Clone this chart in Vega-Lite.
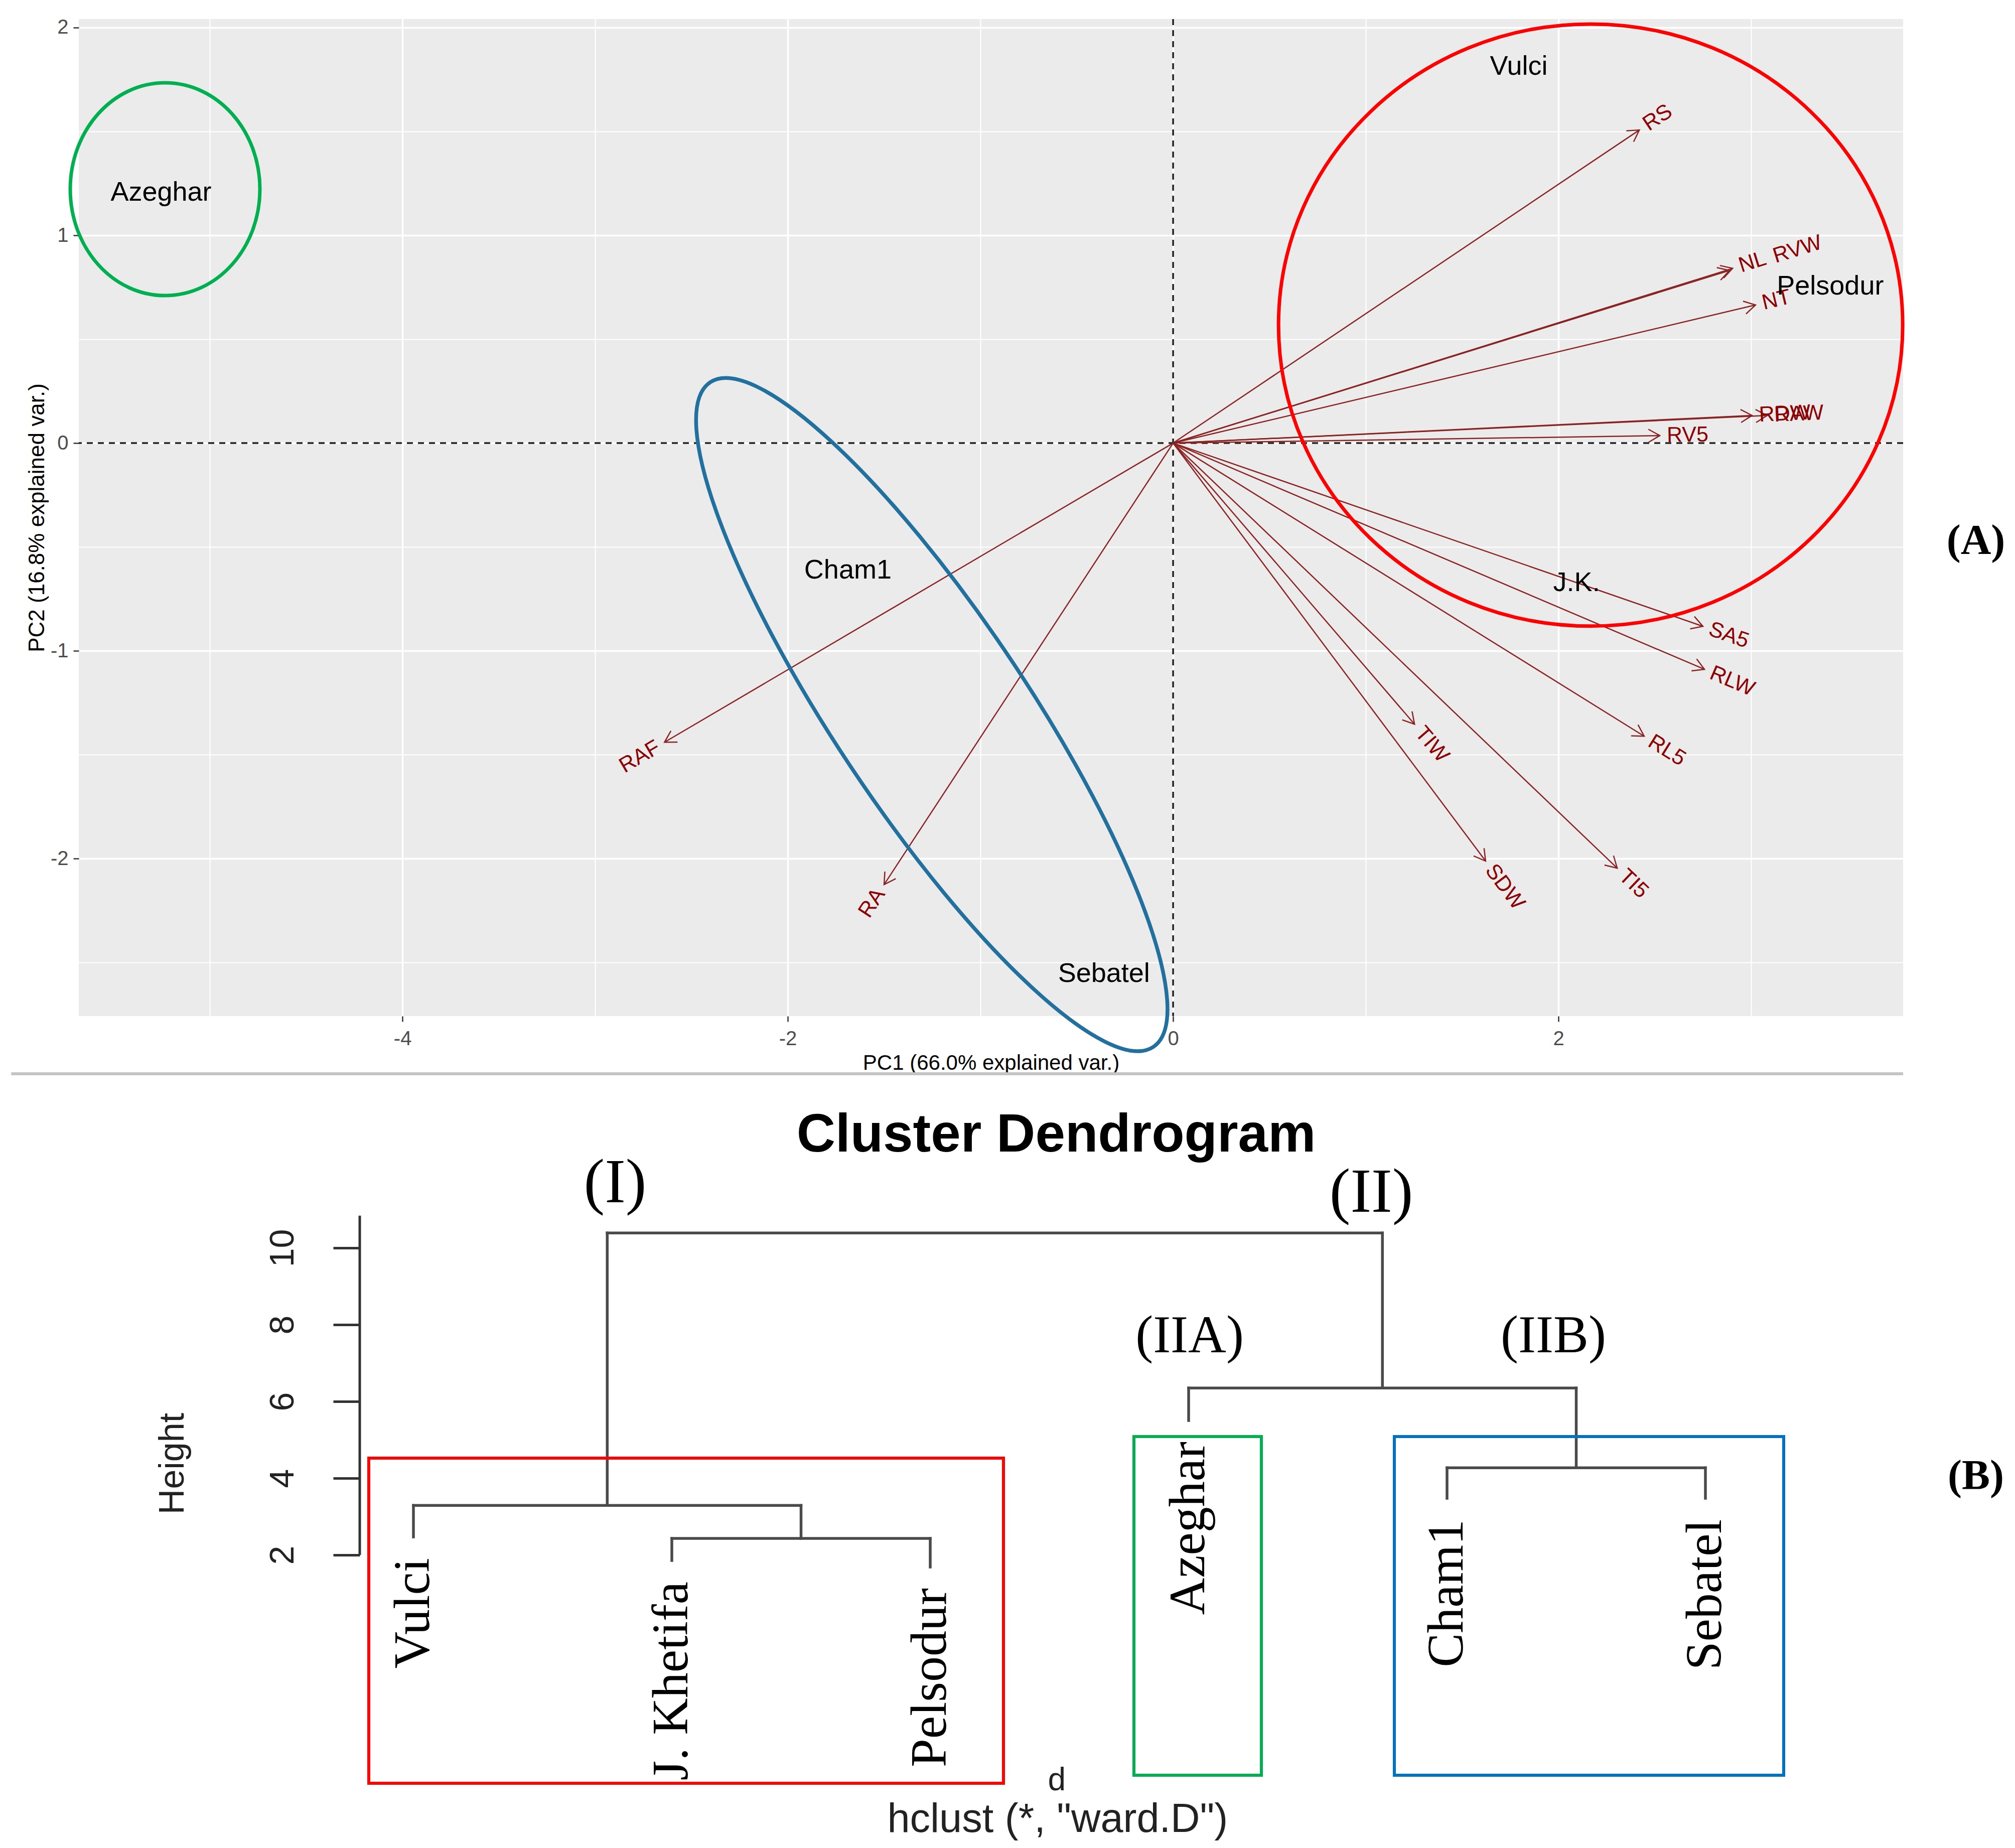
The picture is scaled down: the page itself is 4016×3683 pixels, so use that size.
{
  "$schema": "https://vega.github.io/schema/vega-lite/v6.json",
  "background": "white",
  "padding": {"left": 19, "top": 33, "right": 0, "bottom": 0},
  "config": {"view": {"stroke": null}, "font": "Liberation Sans"},
  "bounds": "flush",
  "center": true,
  "spacing": 120,
  "datasets": {
    "vars": [
      {"var": "RS", "x0": 0, "y0": 0, "x": 2.42, "y": 1.507},
      {"var": "NL", "x0": 0, "y0": 0, "x": 2.904, "y": 0.841},
      {"var": "RVW", "x0": 0, "y0": 0, "x": 2.888, "y": 0.831},
      {"var": "NT", "x0": 0, "y0": 0, "x": 3.023, "y": 0.665},
      {"var": "RDW", "x0": 0, "y0": 0, "x": 3.005, "y": 0.133},
      {"var": "RAW", "x0": 0, "y0": 0, "x": 3.083, "y": 0.133},
      {"var": "RV5", "x0": 0, "y0": 0, "x": 2.526, "y": 0.036},
      {"var": "SA5", "x0": 0, "y0": 0, "x": 2.75, "y": -0.882},
      {"var": "RLW", "x0": 0, "y0": 0, "x": 2.758, "y": -1.089},
      {"var": "RL5", "x0": 0, "y0": 0, "x": 2.445, "y": -1.411},
      {"var": "TIW", "x0": 0, "y0": 0, "x": 1.253, "y": -1.353},
      {"var": "SDW", "x0": 0, "y0": 0, "x": 1.622, "y": -2.012},
      {"var": "TI5", "x0": 0, "y0": 0, "x": 2.305, "y": -2.046},
      {"var": "RAF", "x0": 0, "y0": 0, "x": -2.64, "y": -1.44},
      {"var": "RA", "x0": 0, "y0": 0, "x": -1.5, "y": -2.125}
    ],
    "samples": [
      {"name": "Azeghar", "x": -5.253, "y": 1.205},
      {"name": "Vulci", "x": 1.794, "y": 1.812},
      {"name": "Pelsodur", "x": 3.411, "y": 0.754},
      {"name": "J.K.", "x": 2.094, "y": -0.674},
      {"name": "Cham1", "x": -1.688, "y": -0.613},
      {"name": "Sebatel", "x": -0.359, "y": -2.556}
    ],
    "groups": [
      {"grp": "IIA", "x": -5.232, "y": 1.222},
      {"grp": "I", "x": 2.167, "y": 0.568},
      {"grp": "IIB", "x": -1.2526, "y": -1.3068}
    ],
    "dendro": [
      {"x": 1, "x2": 1, "y": 2.47, "y2": 3.29},
      {"x": 2, "x2": 2, "y": 1.856, "y2": 2.43},
      {"x": 3, "x2": 3, "y": 1.686, "y2": 2.43},
      {"x": 2, "x2": 3, "y": 2.43, "y2": 2.43},
      {"x": 2.5, "x2": 2.5, "y": 2.43, "y2": 3.29},
      {"x": 1, "x2": 2.5, "y": 3.29, "y2": 3.29},
      {"x": 1.75, "x2": 1.75, "y": 3.29, "y2": 10.39},
      {"x": 4, "x2": 4, "y": 5.503, "y2": 6.35},
      {"x": 5, "x2": 5, "y": 3.477, "y2": 4.27},
      {"x": 6, "x2": 6, "y": 3.477, "y2": 4.27},
      {"x": 5, "x2": 6, "y": 4.27, "y2": 4.27},
      {"x": 5.5, "x2": 5.5, "y": 4.27, "y2": 6.35},
      {"x": 4, "x2": 5.5, "y": 6.35, "y2": 6.35},
      {"x": 4.75, "x2": 4.75, "y": 6.35, "y2": 10.39},
      {"x": 1.75, "x2": 4.75, "y": 10.39, "y2": 10.39}
    ],
    "leaves": [
      {"name": "Vulci", "pos": 1, "h": 2.47},
      {"name": "J. Khetifa", "pos": 2, "h": 1.856},
      {"name": "Pelsodur", "pos": 3, "h": 1.686},
      {"name": "Azeghar", "pos": 4, "h": 5.503},
      {"name": "Cham1", "pos": 5, "h": 3.477},
      {"name": "Sebatel", "pos": 6, "h": 3.477}
    ],
    "clusters": [
      {"label": "(I)", "pos": 1.7806, "h": 11.68, "lvl": "main"},
      {"label": "(II)", "pos": 4.7068, "h": 11.444, "lvl": "main"},
      {"label": "(IIA)", "pos": 4.0039, "h": 7.695, "lvl": "sub"},
      {"label": "(IIB)", "pos": 5.4117, "h": 7.695, "lvl": "sub"}
    ],
    "boxes": [
      {"grp": "red", "x1": 0.8272, "x2": 3.2835, "y1": 4.523, "y2": -3.948},
      {"grp": "green", "x1": 3.7883, "x2": 4.2816, "y1": 5.085, "y2": -3.739},
      {"grp": "blue", "x1": 4.7961, "x2": 6.3029, "y1": 5.085, "y2": -3.739}
    ]
  },
  "vconcat": [
    {
      "width": 3636,
      "height": 1987,
      "view": {"fill": "#EBEBEB", "stroke": null},
      "layer": [
        {
          "data": {"values": [{}]},
          "mark": {"type": "rule", "color": "#222222", "strokeWidth": 3.5, "strokeDash": [12, 10]},
          "encoding": {"x": {"datum": 0, "type": "quantitative", "scale": {"domain": [-5.68, 3.789], "nice": false, "zero": false}}}
        },
        {
          "data": {"values": [{}]},
          "mark": {"type": "rule", "color": "#222222", "strokeWidth": 3.5, "strokeDash": [12, 10]},
          "encoding": {"y": {"datum": 0, "type": "quantitative", "scale": {"domain": [-2.758, 2.041], "nice": false, "zero": false}}}
        },
        {
          "data": {"name": "vars"},
          "mark": {"type": "rule", "color": "#8B2323", "strokeWidth": 2.5},
          "encoding": {
            "x": {"field": "x0", "type": "quantitative", "scale": {"domain": [-5.68, 3.789], "nice": false, "zero": false}},
            "y": {"field": "y0", "type": "quantitative", "scale": {"domain": [-2.758, 2.041], "nice": false, "zero": false}},
            "x2": {"field": "x"},
            "y2": {"field": "y"}
          }
        },
        {
          "data": {"name": "vars"},
          "transform": [{"calculate": "atan2(-datum.y * 1.078, datum.x) * 180 / PI", "as": "ha"}],
          "mark": {"type": "point", "shape": "M-0.866,-0.5L0,0L-0.866,0.5", "size": 2704, "filled": false, "color": "#8B2323", "strokeWidth": 2.5, "opacity": 1},
          "encoding": {
            "x": {"field": "x", "type": "quantitative", "scale": {"domain": [-5.68, 3.789], "nice": false, "zero": false},
              "axis": {
                "title": "PC1 (66.0% explained var.)",
                "values": [-5, -4, -3, -2, -1, 0, 1, 2, 3],
                "grid": true, "gridColor": "#FFFFFF", "gridOpacity": 1,
                "gridWidth": {"condition": {"test": "datum.value % 2 == 0", "value": 3.5}, "value": 2.2},
                "tickOpacity": {"condition": {"test": "datum.value % 2 == 0", "value": 1}, "value": 0},
                "labelExpr": "datum.value % 2 == 0 ? (datum.value < 0 ? '-' + abs(datum.value) : '' + datum.value) : ''",
                "domain": false, "tickColor": "#333333", "tickWidth": 2.5, "tickSize": 11,
                "labelFont": "Liberation Sans", "labelFontSize": 40, "labelColor": "#4D4D4D", "labelPadding": 14,
                "labelOverlap": false, "labelFlush": false,
                "titleFont": "Liberation Sans", "titleFontSize": 42, "titleFontWeight": "normal", "titleColor": "#000000", "titlePadding": 8
              }
            },
            "y": {"field": "y", "type": "quantitative", "scale": {"domain": [-2.758, 2.041], "nice": false, "zero": false},
              "axis": {
                "title": "PC2 (16.8% explained var.)",
                "values": [-2.5, -2, -1.5, -1, -0.5, 0, 0.5, 1, 1.5, 2],
                "grid": true, "gridColor": "#FFFFFF", "gridOpacity": 1,
                "gridWidth": {"condition": {"test": "datum.value % 1 == 0", "value": 3.5}, "value": 2.2},
                "tickOpacity": {"condition": {"test": "datum.value % 1 == 0", "value": 1}, "value": 0},
                "labelExpr": "datum.value % 1 == 0 ? (datum.value < 0 ? '-' + abs(datum.value) : '' + datum.value) : ''",
                "domain": false, "tickColor": "#333333", "tickWidth": 2.5, "tickSize": 11,
                "labelFont": "Liberation Sans", "labelFontSize": 40, "labelColor": "#4D4D4D", "labelPadding": 10,
                "labelOverlap": false, "labelFlush": false,
                "titleFont": "Liberation Sans", "titleFontSize": 44, "titleFontWeight": "normal", "titleColor": "#000000", "titlePadding": 4
              }
            },
            "angle": {"field": "ha", "type": "quantitative", "scale": null}
          }
        },
        {
          "data": {"name": "vars"},
          "transform": [{"filter": "datum.x > 0 && datum.var != 'RVW'"}, {"calculate": "-atan(datum.y * 1.078 / datum.x) * 180 / PI", "as": "la"}],
          "mark": {"type": "text", "align": "left", "baseline": "middle", "dx": 14, "fontSize": 43, "color": "#8B0000", "font": "Liberation Sans"},
          "encoding": {
            "x": {"field": "x", "type": "quantitative", "scale": {"domain": [-5.68, 3.789], "nice": false, "zero": false}},
            "y": {"field": "y", "type": "quantitative", "scale": {"domain": [-2.758, 2.041], "nice": false, "zero": false}},
            "text": {"field": "var"},
            "angle": {"field": "la", "type": "quantitative", "scale": null}
          }
        },
        {
          "data": {"name": "vars"},
          "transform": [{"filter": "datum.var == 'RVW'"}, {"calculate": "-atan(datum.y * 1.078 / datum.x) * 180 / PI", "as": "la"}],
          "mark": {"type": "text", "align": "left", "baseline": "middle", "dx": 92, "fontSize": 43, "color": "#8B0000", "font": "Liberation Sans"},
          "encoding": {
            "x": {"field": "x", "type": "quantitative", "scale": {"domain": [-5.68, 3.789], "nice": false, "zero": false}},
            "y": {"field": "y", "type": "quantitative", "scale": {"domain": [-2.758, 2.041], "nice": false, "zero": false}},
            "text": {"field": "var"},
            "angle": {"field": "la", "type": "quantitative", "scale": null}
          }
        },
        {
          "data": {"name": "vars"},
          "transform": [{"filter": "datum.x < 0"}, {"calculate": "-atan(datum.y * 1.078 / datum.x) * 180 / PI", "as": "la"}],
          "mark": {"type": "text", "align": "right", "baseline": "middle", "dx": -14, "fontSize": 43, "color": "#8B0000", "font": "Liberation Sans"},
          "encoding": {
            "x": {"field": "x", "type": "quantitative", "scale": {"domain": [-5.68, 3.789], "nice": false, "zero": false}},
            "y": {"field": "y", "type": "quantitative", "scale": {"domain": [-2.758, 2.041], "nice": false, "zero": false}},
            "text": {"field": "var"},
            "angle": {"field": "la", "type": "quantitative", "scale": null}
          }
        },
        {
          "data": {"name": "groups"},
          "transform": [{"filter": "datum.grp == 'IIA'"}],
          "mark": {"type": "point", "shape": "M0.8915,0C0.8915,0.5523,0.4924,1,0,1C-0.4924,1,-0.8915,0.5523,-0.8915,0C-0.8915,-0.5523,-0.4924,-1,0,-1C0.4924,-1,0.8915,-0.5523,0.8915,0Z", "size": 179776, "filled": false, "color": "#00B050", "strokeWidth": 7, "opacity": 1},
          "encoding": {
            "x": {"field": "x", "type": "quantitative", "scale": {"domain": [-5.68, 3.789], "nice": false, "zero": false}},
            "y": {"field": "y", "type": "quantitative", "scale": {"domain": [-2.758, 2.041], "nice": false, "zero": false}}
          }
        },
        {
          "data": {"name": "groups"},
          "transform": [{"filter": "datum.grp == 'I'"}],
          "mark": {"type": "point", "shape": "M1,0C1,0.5327,0.5523,0.9646,0,0.9646C-0.5523,0.9646,-1,0.5327,-1,0C-1,-0.5327,-0.5523,-0.9646,0,-0.9646C0.5523,-0.9646,1,-0.5327,1,0Z", "size": 1547536, "filled": false, "color": "#FF0000", "strokeWidth": 7, "opacity": 1},
          "encoding": {
            "x": {"field": "x", "type": "quantitative", "scale": {"domain": [-5.68, 3.789], "nice": false, "zero": false}},
            "y": {"field": "y", "type": "quantitative", "scale": {"domain": [-2.758, 2.041], "nice": false, "zero": false}}
          }
        },
        {
          "data": {"name": "groups"},
          "transform": [{"filter": "datum.grp == 'IIB'"}],
          "mark": {"type": "point", "shape": "M1,0C1,0.1332,0.5523,0.2412,0,0.2412C-0.5523,0.2412,-1,0.1332,-1,0C-1,-0.1332,-0.5523,-0.2412,0,-0.2412C0.5523,-0.2412,1,-0.1332,1,0Z", "size": 2534464, "angle": 56.3, "filled": false, "color": "#21709E", "strokeWidth": 7.5, "opacity": 1},
          "encoding": {
            "x": {"field": "x", "type": "quantitative", "scale": {"domain": [-5.68, 3.789], "nice": false, "zero": false}},
            "y": {"field": "y", "type": "quantitative", "scale": {"domain": [-2.758, 2.041], "nice": false, "zero": false}}
          }
        },
        {
          "data": {"name": "samples"},
          "mark": {"type": "text", "align": "center", "baseline": "middle", "fontSize": 54, "color": "#000000", "font": "Liberation Sans"},
          "encoding": {
            "x": {"field": "x", "type": "quantitative", "scale": {"domain": [-5.68, 3.789], "nice": false, "zero": false}},
            "y": {"field": "y", "type": "quantitative", "scale": {"domain": [-2.758, 2.041], "nice": false, "zero": false}},
            "text": {"field": "name"}
          }
        },
        {
          "data": {"values": [{"x": 4.1667, "y": -0.4734, "t": "(A)"}]},
          "mark": {"type": "text", "align": "center", "baseline": "middle", "fontSize": 84, "fontWeight": "bold", "color": "#000000", "font": "Liberation Serif"},
          "encoding": {
            "x": {"field": "x", "type": "quantitative", "scale": {"domain": [-5.68, 3.789], "nice": false, "zero": false}},
            "y": {"field": "y", "type": "quantitative", "scale": {"domain": [-2.758, 2.041], "nice": false, "zero": false}},
            "text": {"field": "t"}
          }
        },
        {
          "data": {"values": [{"x": -6.031, "x2": 3.789, "y": -3.036}]},
          "mark": {"type": "rule", "color": "#C4C4C4", "strokeWidth": 6},
          "encoding": {
            "x": {"field": "x", "type": "quantitative", "scale": {"domain": [-5.68, 3.789], "nice": false, "zero": false}},
            "x2": {"field": "x2"},
            "y": {"field": "y", "type": "quantitative", "scale": {"domain": [-2.758, 2.041], "nice": false, "zero": false}}
          }
        }
      ]
    },
    {
      "width": 2516,
      "height": 1543,
      "layer": [
        {
          "data": {"name": "dendro"},
          "mark": {"type": "rule", "color": "#4A4A4A", "strokeWidth": 5.5, "strokeCap": "square"},
          "encoding": {
            "x": {"field": "x", "type": "quantitative", "scale": {"domain": [0.79223, 5.67767], "nice": false, "zero": false}, "axis": null},
            "x2": {"field": "x2"},
            "y": {"field": "y", "type": "quantitative", "scale": {"domain": [-5.6993, 14.4706], "nice": false, "zero": false},
              "axis": {
                "title": "Height", "values": [2, 4, 6, 8, 10], "format": "d", "grid": false, "domain": false,
                "tickSize": 53, "tickWidth": 5, "tickColor": "#333333",
                "labelAngle": 270, "labelAlign": "center", "labelBaseline": "bottom", "labelPadding": 66,
                "labelFont": "Liberation Sans", "labelFontSize": 68, "labelColor": "#222222",
                "titleFont": "Liberation Sans", "titleFontSize": 70, "titleFontWeight": "normal", "titleColor": "#222222", "titlePadding": 150
              }
            },
            "y2": {"field": "y2"}
          }
        },
        {
          "data": {"values": [{"x": 0.79223, "y": 2, "y2": 10.84}]},
          "mark": {"type": "rule", "color": "#333333", "strokeWidth": 5},
          "encoding": {
            "x": {"field": "x", "type": "quantitative", "scale": {"domain": [0.79223, 5.67767], "nice": false, "zero": false}, "axis": null},
            "y": {"field": "y", "type": "quantitative", "scale": {"domain": [-5.6993, 14.4706], "nice": false, "zero": false}},
            "y2": {"field": "y2"}
          }
        },
        {
          "data": {"name": "boxes"},
          "mark": {"type": "rect", "filled": false, "strokeWidth": 6},
          "encoding": {
            "x": {"field": "x1", "type": "quantitative", "scale": {"domain": [0.79223, 5.67767], "nice": false, "zero": false}, "axis": null},
            "x2": {"field": "x2"},
            "y": {"field": "y1", "type": "quantitative", "scale": {"domain": [-5.6993, 14.4706], "nice": false, "zero": false}},
            "y2": {"field": "y2"},
            "color": {"field": "grp", "type": "nominal", "scale": {"domain": ["red", "green", "blue"], "range": ["#FF0000", "#00B050", "#0070C0"]}, "legend": null}
          }
        },
        {
          "data": {"name": "leaves"},
          "mark": {"type": "text", "angle": 270, "align": "right", "baseline": "middle", "dx": -42, "fontSize": 102, "font": "Liberation Serif", "color": "#000000"},
          "encoding": {
            "x": {"field": "pos", "type": "quantitative", "scale": {"domain": [0.79223, 5.67767], "nice": false, "zero": false}, "axis": null},
            "y": {"field": "h", "type": "quantitative", "scale": {"domain": [-5.6993, 14.4706], "nice": false, "zero": false}},
            "text": {"field": "name"}
          }
        },
        {
          "data": {"name": "clusters"},
          "transform": [{"filter": "datum.lvl == 'main'"}],
          "mark": {"type": "text", "align": "center", "baseline": "middle", "fontSize": 125, "font": "Liberation Serif", "color": "#000000"},
          "encoding": {
            "x": {"field": "pos", "type": "quantitative", "scale": {"domain": [0.79223, 5.67767], "nice": false, "zero": false}, "axis": null},
            "y": {"field": "h", "type": "quantitative", "scale": {"domain": [-5.6993, 14.4706], "nice": false, "zero": false}},
            "text": {"field": "label"}
          }
        },
        {
          "data": {"name": "clusters"},
          "transform": [{"filter": "datum.lvl == 'sub'"}],
          "mark": {"type": "text", "align": "center", "baseline": "middle", "fontSize": 105, "font": "Liberation Serif", "color": "#000000"},
          "encoding": {
            "x": {"field": "pos", "type": "quantitative", "scale": {"domain": [0.79223, 5.67767], "nice": false, "zero": false}, "axis": null},
            "y": {"field": "h", "type": "quantitative", "scale": {"domain": [-5.6993, 14.4706], "nice": false, "zero": false}},
            "text": {"field": "label"}
          }
        },
        {
          "data": {"values": [{"x": 3.4874, "y": 12.928, "t": "Cluster Dendrogram"}]},
          "mark": {"type": "text", "align": "center", "baseline": "middle", "fontSize": 107, "fontWeight": "bold", "font": "Liberation Sans", "color": "#000000"},
          "encoding": {
            "x": {"field": "x", "type": "quantitative", "scale": {"domain": [0.79223, 5.67767], "nice": false, "zero": false}, "axis": null},
            "y": {"field": "y", "type": "quantitative", "scale": {"domain": [-5.6993, 14.4706], "nice": false, "zero": false}},
            "text": {"field": "t"}
          }
        },
        {
          "data": {"values": [{"x": 3.49, "y": -3.882, "t": "d"}]},
          "mark": {"type": "text", "align": "center", "baseline": "middle", "fontSize": 64, "font": "Liberation Sans", "color": "#222222"},
          "encoding": {
            "x": {"field": "x", "type": "quantitative", "scale": {"domain": [0.79223, 5.67767], "nice": false, "zero": false}, "axis": null},
            "y": {"field": "y", "type": "quantitative", "scale": {"domain": [-5.6993, 14.4706], "nice": false, "zero": false}},
            "text": {"field": "t"}
          }
        },
        {
          "data": {"values": [{"x": 3.493, "y": -4.902, "t": "hclust (*, \"ward.D\")"}]},
          "mark": {"type": "text", "align": "center", "baseline": "middle", "fontSize": 81, "font": "Liberation Sans", "color": "#222222"},
          "encoding": {
            "x": {"field": "x", "type": "quantitative", "scale": {"domain": [0.79223, 5.67767], "nice": false, "zero": false}, "axis": null},
            "y": {"field": "y", "type": "quantitative", "scale": {"domain": [-5.6993, 14.4706], "nice": false, "zero": false}},
            "text": {"field": "t"}
          }
        },
        {
          "data": {"values": [{"x": 7.0466, "y": 4.039, "t": "(B)"}]},
          "mark": {"type": "text", "align": "center", "baseline": "middle", "fontSize": 84, "fontWeight": "bold", "font": "Liberation Serif", "color": "#000000"},
          "encoding": {
            "x": {"field": "x", "type": "quantitative", "scale": {"domain": [0.79223, 5.67767], "nice": false, "zero": false}, "axis": null},
            "y": {"field": "y", "type": "quantitative", "scale": {"domain": [-5.6993, 14.4706], "nice": false, "zero": false}},
            "text": {"field": "t"}
          }
        }
      ]
    }
  ]
}
